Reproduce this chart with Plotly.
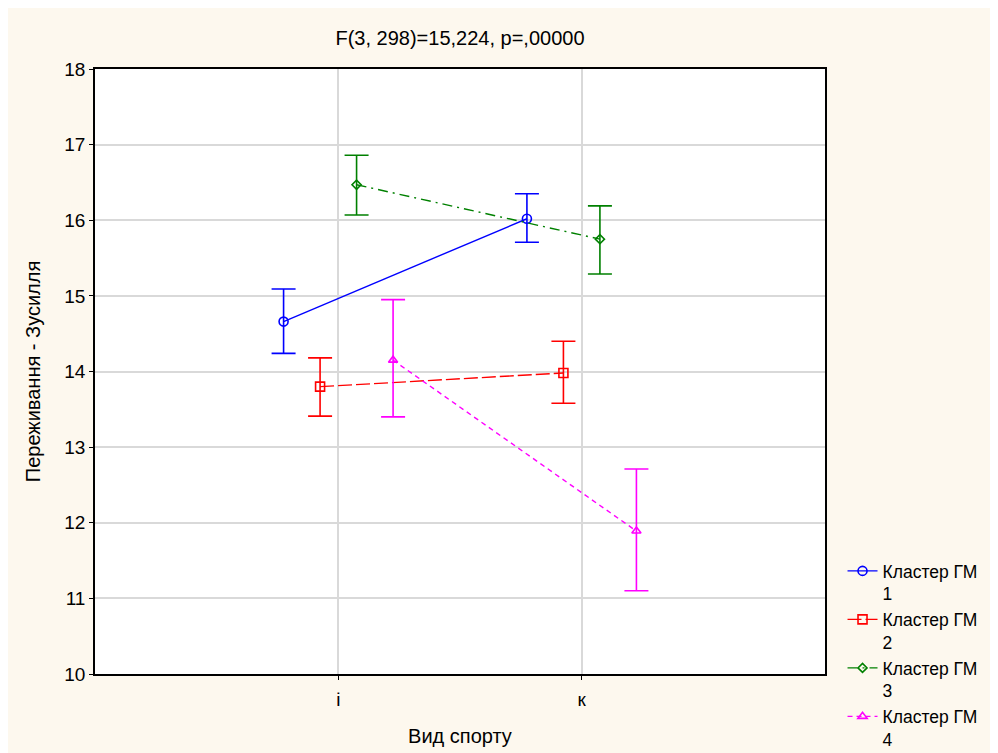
import plotly.graph_objects as go

categories = ["і", "к"]
cat_pos = [1, 2]
series_names = ["Кластер ГМ<br>1", "Кластер ГМ<br>2", "Кластер ГМ<br>3", "Кластер ГМ<br>4"]
means = [
    [14.66, 16.02],
    [13.80, 13.98],
    [16.47, 15.75],
    [14.15, 11.89],
]
upper = [
    [15.09, 16.35],
    [14.18, 14.40],
    [16.86, 16.19],
    [14.95, 12.71],
]
lower = [
    [14.24, 15.71],
    [13.41, 13.58],
    [16.07, 15.29],
    [13.40, 11.10],
]
offsets = [-0.225, -0.075, 0.075, 0.225]
colors = ["#0000ff", "#ff0000", "#008000", "#ff00ff"]
dashes = ["solid", "14px,4px", "10px,5px,2px,5px", "5px,4px"]
symbols = ["circle-open", "square-open", "diamond-open", "triangle-up-open"]
msizes = [9, 9, 7, 8]

fig = go.Figure()
for i in range(4):
    xs = [p + offsets[i] for p in cat_pos]
    fig.add_trace(go.Scatter(
        x=xs, y=means[i], name=series_names[i], mode="lines+markers",
        line=dict(color=colors[i], width=1.4, dash=dashes[i]),
        marker=dict(symbol=symbols[i], size=msizes[i], color=colors[i], line=dict(width=1.6, color=colors[i])),
        error_y=dict(type="data", symmetric=False,
                     array=[u - m for u, m in zip(upper[i], means[i])],
                     arrayminus=[m - l for m, l in zip(means[i], lower[i])],
                     color=colors[i], thickness=1.6, width=12),
    ))

fig.update_layout(
    width=990, height=745,
    paper_bgcolor="#fdf8ee", plot_bgcolor="#ffffff",
    margin=dict(l=87, r=173, t=61, b=79, autoexpand=False),
    font=dict(family="Liberation Sans, Arial, sans-serif", size=20, color="#000000"),
    title=dict(text="F(3, 298)=15,224, p=,00000", x=0.5, xref="paper", xanchor="center",
               y=1 - 30 / 745, yanchor="middle", font=dict(size=20)),
    showlegend=True,
    legend=dict(x=1.024, xanchor="left", y=0.20, yanchor="top", bgcolor="rgba(0,0,0,0)",
                font=dict(size=17.5), tracegroupgap=0, itemwidth=30, valign="top"),
)
fig.update_xaxes(
    range=[0, 3], tickmode="array", tickvals=cat_pos, ticktext=categories,
    showgrid=True, gridcolor="#d9d9d9", gridwidth=1.5, zeroline=False,
    showline=True, linecolor="#000000", linewidth=1.5, mirror=True,
    ticks="outside", ticklen=4, tickcolor="#000000", ticklabelstandoff=3,
    tickfont=dict(size=19),
    title=dict(text="Вид спорту", font=dict(size=20), standoff=20),
)
fig.update_yaxes(
    range=[10, 18], dtick=1, tick0=10,
    showgrid=True, gridcolor="#d9d9d9", gridwidth=1.5, zeroline=False,
    showline=True, linecolor="#000000", linewidth=1.5, mirror=True,
    ticks="outside", ticklen=4, tickcolor="#000000",
    tickfont=dict(size=19),
    title=dict(text="Переживання - Зусилля", font=dict(size=20), standoff=18),
)

fig.write_html("out.html")
